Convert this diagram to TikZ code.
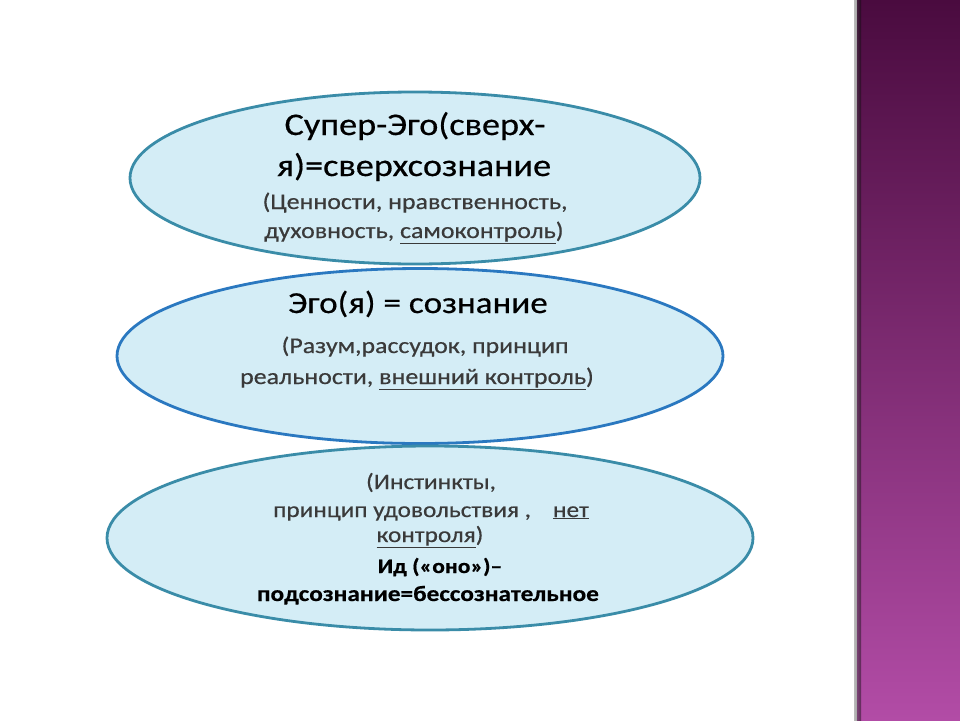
\documentclass[tikz,border=0pt]{standalone}
\usepackage{fontspec}
\setmainfont{Carlito}[FakeStretch=1.15,FakeBold=0.5]
\usetikzlibrary{shapes.geometric}
\definecolor{efill}{HTML}{D4EDF6}
\definecolor{eline}{HTML}{3A8CA8}
\definecolor{eline2}{HTML}{2A78C0}
\definecolor{graytxt}{HTML}{3A3A3A}
\definecolor{bandtop}{HTML}{4A0B3F}
\definecolor{bandbot}{HTML}{B24CA6}
\tikzset{
  oval/.style={ellipse, draw=eline, line width=2.8pt, fill=efill, inner sep=0pt},
  bigtxt/.style={font=\fontsize{31.5}{38}\selectfont, text=black, anchor=base, inner sep=0pt},
  smalltxt/.style={font=\fontsize{22.5}{28}\selectfont, text=graytxt, anchor=base, inner sep=0pt},
  idtxt/.style={font=\fontsize{22}{28}\selectfont, text=graytxt, anchor=base, inner sep=0pt},
  idbold/.style={font=\fontsize{22}{28}\selectfont\bfseries, text=black, anchor=base, inner sep=0pt},
}
\begin{document}
\begin{tikzpicture}[x=1pt,y=-1pt]
\useasboundingbox (0,0) rectangle (960,720);
\fill[white] (0,0) rectangle (960,720);
% right band
\shade[top color=bandtop, bottom color=bandbot] (857,0) rectangle (960,720);
\shade[left color=black!60, right color=black, opacity=0.45] (854,0) rectangle (861,720);
% ellipses
\node[oval, minimum width=570pt, minimum height=172pt] (e1) at (415,178) {};
\node[oval, draw=eline2, minimum width=606pt, minimum height=175pt] (e2) at (420,356) {};
\node[oval, minimum width=646pt, minimum height=184pt] (e3) at (430,538) {};
% texts top
\node[bigtxt] (t1a) at (415,135) {Супер-Эго(сверх-};
\node[bigtxt] (t1b) at (414,176) {я)=сверхсознание};
\node[smalltxt] (t1c) at (415,209) {(Ценности, нравственность,};
\node[smalltxt] (t1d) at (414,238) {духовность, \underline{самоконтроль})};
% texts middle
\node[bigtxt, font=\fontsize{30.5}{38}\selectfont] (t2a) at (418,313) {Эго(я) = сознание};
\node[smalltxt] (t2b) at (425,353) {(Разум,рассудок, принцип};
\node[smalltxt] (t2c) at (417,384) {реальности, \underline{внешний контроль})};
% texts bottom
\node[idtxt] (t3a) at (431,489) {(Инстинкты,};
\node[idtxt] (t3b) at (431,517) {принцип удовольствия ,\quad \underline{нет}};
\node[idtxt] (t3c) at (430,542) {\underline{контроля})};
\node[idbold, font=\fontsize{20.5}{28}\selectfont\bfseries] (t3d) at (440,573) {Ид («оно»)–};
\node[idbold] (t3e) at (428,601) {подсознание=бессознательное};
\end{tikzpicture}
\end{document}
